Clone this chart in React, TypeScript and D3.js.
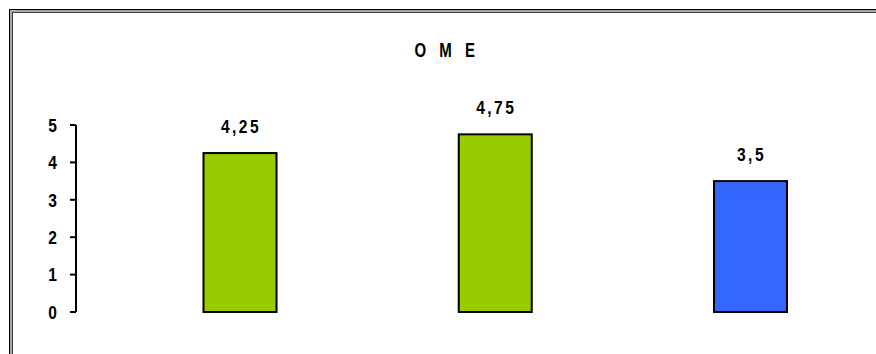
import React from "react";
import * as d3 from "d3";

const categories = ["A", "B", "C"];
const values = [4.25, 4.75, 3.5];
const barColors = ["#99CC00", "#99CC00", "#3366FF"];
const valueLabels = ["4,25", "4,75", "3,5"];
const yTicks = [0, 1, 2, 3, 4, 5];
const title = "O M E";

const W = 876;
const H = 354;

export default function App() {
  const y = d3.scaleLinear().domain([0, 5]).range([312, 125]);
  const x = d3.scalePoint<string>().domain(categories).range([240, 750.5]);
  const barW = 73;
  const font = "'Liberation Sans', Arial, sans-serif";

  return (
    <svg
      width={W}
      height={H}
      style={{ position: "absolute", left: 0, top: 0, background: "#fff" }}
    >
      {/* frame */}
      <rect x={9.5} y={9.5} width={1000} height={1000} fill="none" stroke="#000" strokeWidth={1} />
      <rect x={11} y={11} width={1000} height={1000} fill="none" stroke="#a6a6a6" strokeWidth={2} />
      <rect x={12.5} y={12.5} width={1000} height={1000} fill="none" stroke="#444" strokeWidth={1} />

      {/* title */}
      <text
        transform={`translate(447,57) scale(0.75,1)`}
        textAnchor="middle"
        fontFamily={font}
        fontWeight="bold"
        fontSize={20}
        letterSpacing={6}
        fill="#000"
      >
        {title}
      </text>

      {/* y axis */}
      <line x1={76} x2={76} y1={y(5)} y2={y(0)} stroke="#000" strokeWidth={2} />
      {yTicks.map((t) => (
        <g key={t}>
          <line x1={70} x2={76} y1={y(t)} y2={y(t)} stroke="#000" strokeWidth={2} />
          <text
            transform={`translate(57,${y(t) + 6.8}) scale(0.82,1)`}
            textAnchor="end"
            fontFamily={font}
            fontWeight="bold"
            fontSize={19}
            fill="#000"
          >
            {t}
          </text>
        </g>
      ))}

      {/* bars */}
      {categories.map((c, i) => {
        const cx = x(c) as number;
        return (
          <g key={c}>
            <rect
              x={cx - barW / 2}
              y={y(values[i])}
              width={barW}
              height={y(0) - y(values[i])}
              fill={barColors[i]}
              stroke="#000"
              strokeWidth={2}
            />
            <text
              transform={`translate(${cx + 1},${y(values[i]) - 20}) scale(0.82,1)`}
              textAnchor="middle"
              fontFamily={font}
              fontWeight="bold"
              fontSize={19}
              letterSpacing={3}
              fill="#000"
            >
              {valueLabels[i]}
            </text>
          </g>
        );
      })}
    </svg>
  );
}
